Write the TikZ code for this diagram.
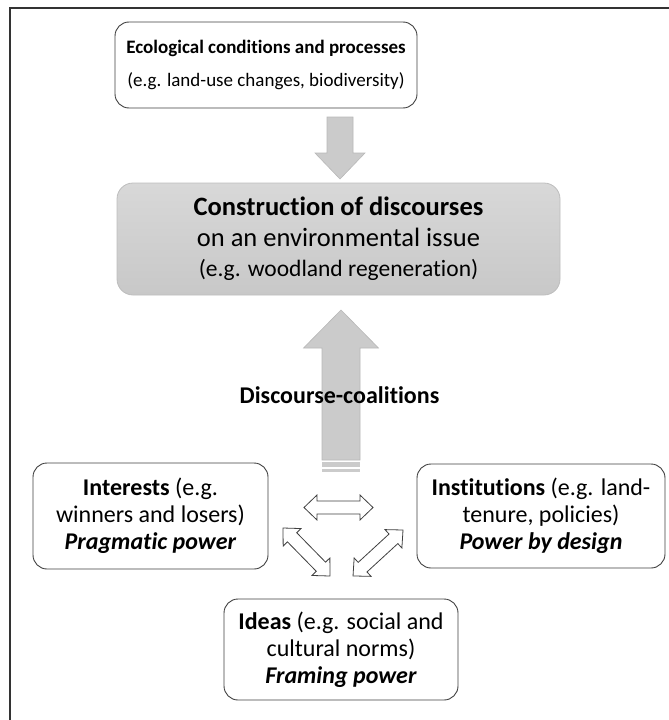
\documentclass[tikz,border=0pt]{standalone}
\usepackage{fontspec}
\setmainfont{Carlito}[Ligatures=NoCommon]
\definecolor{midtop}{HTML}{D8D8D8}
\definecolor{midbot}{HTML}{C8C8C8}
\definecolor{midline}{HTML}{BDBDBD}
\definecolor{arrowfill}{HTML}{CBCBCB}
\definecolor{arrowline}{HTML}{B8B8B8}
\definecolor{boxline}{HTML}{404040}
\newcommand\dblarrow[3]{%
  \begin{scope}[shift={#1}, rotate=#2]
    \draw[outarrow] (0,0) -- (13,12.5) -- (13,6.5) -- ({#3-13},6.5) -- ({#3-13},12.5) -- (#3,0)
      -- ({#3-13},-12.5) -- ({#3-13},-6.5) -- (13,-6.5) -- (13,-12.5) -- cycle;
  \end{scope}}
\begin{document}
\begin{tikzpicture}[x=1pt,y=-1pt,
  box/.style={draw=boxline, line width=0.9pt, rounded corners=14pt, fill=white,
    align=center, inner sep=0pt},
  midbox/.style={draw=midline, line width=0.8pt, rounded corners=16pt,
    top color=midtop, bottom color=midbot, align=center, inner sep=0pt},
  blockarrow/.style={fill=arrowfill, draw=arrowline, line width=0.6pt},
  outarrow/.style={draw=boxline, fill=white, line width=0.8pt, line join=miter},
  lowfont/.style={font=\fontsize{24}{27}\selectfont}]
\useasboundingbox (0,0) rectangle (669,720);
% frame
\draw[line width=1.6pt, black!80] (10,720) -- (10,8) -- (669,8);

% top box
\node[box, minimum width=302pt, minimum height=86pt,
  font=\fontsize{19}{33}\selectfont] (eco) at (266,65)
  {\textbf{Ecological conditions and processes}\\(e.g. land-use changes, biodiversity)};

% down arrow
\draw[blockarrow] (327,117) -- (353,117) -- (353,153) -- (365,153) -- (340,179)
  -- (315,153) -- (327,153) -- cycle;

% middle box
\node[midbox, minimum width=443pt, minimum height=112pt,
  font=\fontsize{26.5}{30.5}\selectfont] (disc) at (338.5,239)
  {\textbf{Construction of discourses}\\on an environmental issue\\
   {\fontsize{23.5}{30.5}\selectfont(e.g. woodland regeneration)}};

% up arrow
\draw[blockarrow] (341,310) -- (378.5,348) -- (360,348) -- (360,460) -- (322,460)
  -- (322,348) -- (303.5,348) -- cycle;
\fill[arrowfill] (322,462) rectangle (360,467);
\fill[arrowfill] (322,469) rectangle (360,471.5);

\node[font=\fontsize{24}{27}\selectfont\bfseries, inner sep=0pt] (coal) at (339.5,395)
  {Discourse-coalitions};

% bottom boxes
\node[box, lowfont, minimum width=235pt, minimum height=106pt] (int) at (150.5,516)
  {\textbf{Interests} (e.g.\\winners and losers)\\\textbf{\textit{Pragmatic power}}};
\node[box, lowfont, minimum width=248pt, minimum height=104pt] (inst) at (541,516)
  {\textbf{Institutions} (e.g. land-\\tenure, policies)\\\textbf{\textit{Power by design}}};
\node[box, lowfont, minimum width=234pt, minimum height=101pt] (idea) at (341,649.5)
  {\textbf{Ideas} (e.g. social and\\cultural norms)\\\textbf{\textit{Framing power}}};

% double arrows
\dblarrow{(304,507.5)}{0}{69}
\dblarrow{(283,528)}{-45.6}{67.2}
\dblarrow{(403,530)}{-137.4}{67.9}
\end{tikzpicture}
\end{document}
